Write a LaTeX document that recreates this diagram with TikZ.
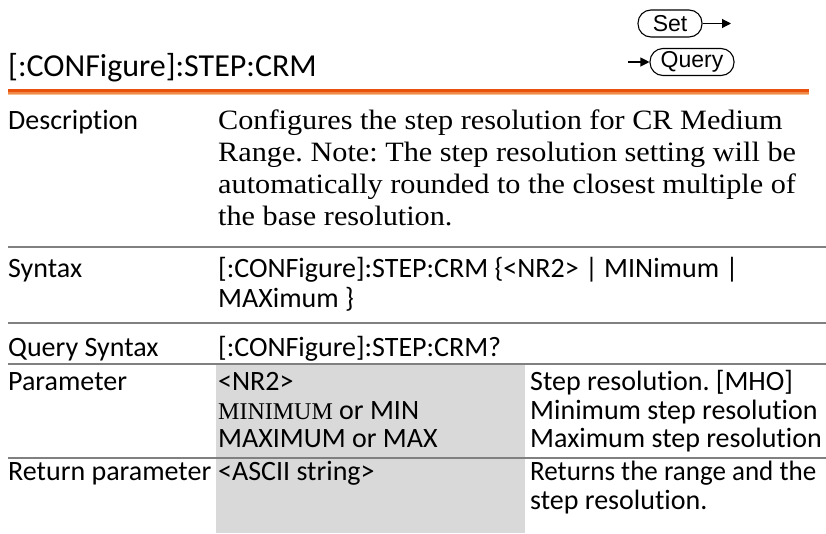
\documentclass[tikz,border=0pt]{standalone}
\usepackage{fontspec}
\setmainfont{Carlito}[Ligatures={NoCommon,NoContextual,NoRare}]
\newfontfamily\descfont[FakeStretch=1.08]{Liberation Serif}
\newfontfamily\capserif{Liberation Serif}
\newfontfamily\btnfont{Liberation Sans}
\usetikzlibrary{arrows.meta}
\definecolor{rulegray}{HTML}{808080}
\definecolor{shadegray}{HTML}{D9D9D9}
\definecolor{orA}{HTML}{E8520C}
\definecolor{orB}{HTML}{F08A48}
\definecolor{orC}{HTML}{F8BE90}
\frenchspacing
\begin{document}
\begin{tikzpicture}[x=1pt,y=-1pt,
  lbl/.style={anchor=base west, inner sep=0pt, font=\fontsize{28}{32}\selectfont},
  desc/.style={anchor=base west, inner sep=0pt, font=\descfont\frenchspacing\fontsize{28}{32}\selectfont},
  ttl/.style={anchor=base west, inner sep=0pt, font=\fontsize{32}{36}\selectfont},
  btn/.style={draw, line width=1.1pt, rounded corners=13pt, minimum height=27pt, inner sep=0pt, font=\btnfont\fontsize{23}{25}\selectfont},
  rulex/.style={draw=rulegray, line width=2pt},
  flow/.style={line width=1.1pt, -{Triangle[length=9pt,width=9pt]}}
]
\useasboundingbox (0,0) rectangle (826,533);
% shading of parameter column
\fill[shadegray] (216,364) rectangle (525,533);
% title
\node[ttl] (title) at (8,76) {[:CONFigure]:STEP:CRM};
% set / query
\node[btn, minimum width=64pt] (set) at (670,23.5) {Set};
\coordinate (setend) at (731,23.5);
\draw[flow] (set.east) -- (setend);
\node[btn, minimum width=84pt] (query) at (692,62) {Query};
\coordinate (qstart) at (628,62);
\draw[flow] (qstart) -- (query.west);
% orange rule
\fill[orA] (8,89) rectangle (809,92);
\fill[orB] (8,92) rectangle (809,93.5);
\fill[orC] (8,93.5) rectangle (809,95);
% rules
\draw[rulex] (8,247) -- (826,247);
\draw[rulex] (8,323) -- (826,323);
\draw[rulex] (8,364) -- (826,364);
\draw[rulex] (8,458) -- (826,458);
% description
\node[lbl] (ldesc) at (8,129) {Description};
\node[desc] (d1) at (218,129) {Configures the step resolution for CR Medium};
\node[desc] (d2) at (218,161) {Range. Note: The step resolution setting will be};
\node[desc] (d3) at (218,193) {automatically rounded to the closest multiple of};
\node[desc] (d4) at (218,225) {the base resolution.};
% syntax
\node[lbl] (lsyn) at (8,277) {Syntax};
\node[lbl] (s1) at (218,277) {[:CONFigure]:STEP:CRM \{<NR2> | MINimum |};
\node[lbl] (s2) at (218,307) {MAXimum \}};
% query syntax
\node[lbl] (lq) at (8,356) {Query Syntax};
\node[lbl] (q1) at (218,356) {[:CONFigure]:STEP:CRM?};
% parameter
\node[lbl] (lpar) at (8,390) {Parameter};
\node[lbl] (p1) at (218,390) {<NR2>};
\node[lbl] (p2) at (218,419) {{\capserif\fontsize{24}{28}\selectfont MINIMUM} or MIN};
\node[lbl] (p3) at (218,447) {MAXIMUM or MAX};
\node[lbl] (e1) at (530,390) {Step resolution. [MHO]};
\node[lbl] (e2) at (530,419) {Minimum step resolution};
\node[lbl] (e3) at (530,447) {Maximum step resolution};
% return
\node[lbl] (lret) at (8,480) {Return parameter};
\node[lbl] (r1) at (218,480) {<ASCII string>};
\node[lbl] (r2) at (530,480) {\scalebox{0.965}[1]{Returns the range and the}};
\node[lbl] (r3) at (530,509) {step resolution.};
\end{tikzpicture}
\end{document}
